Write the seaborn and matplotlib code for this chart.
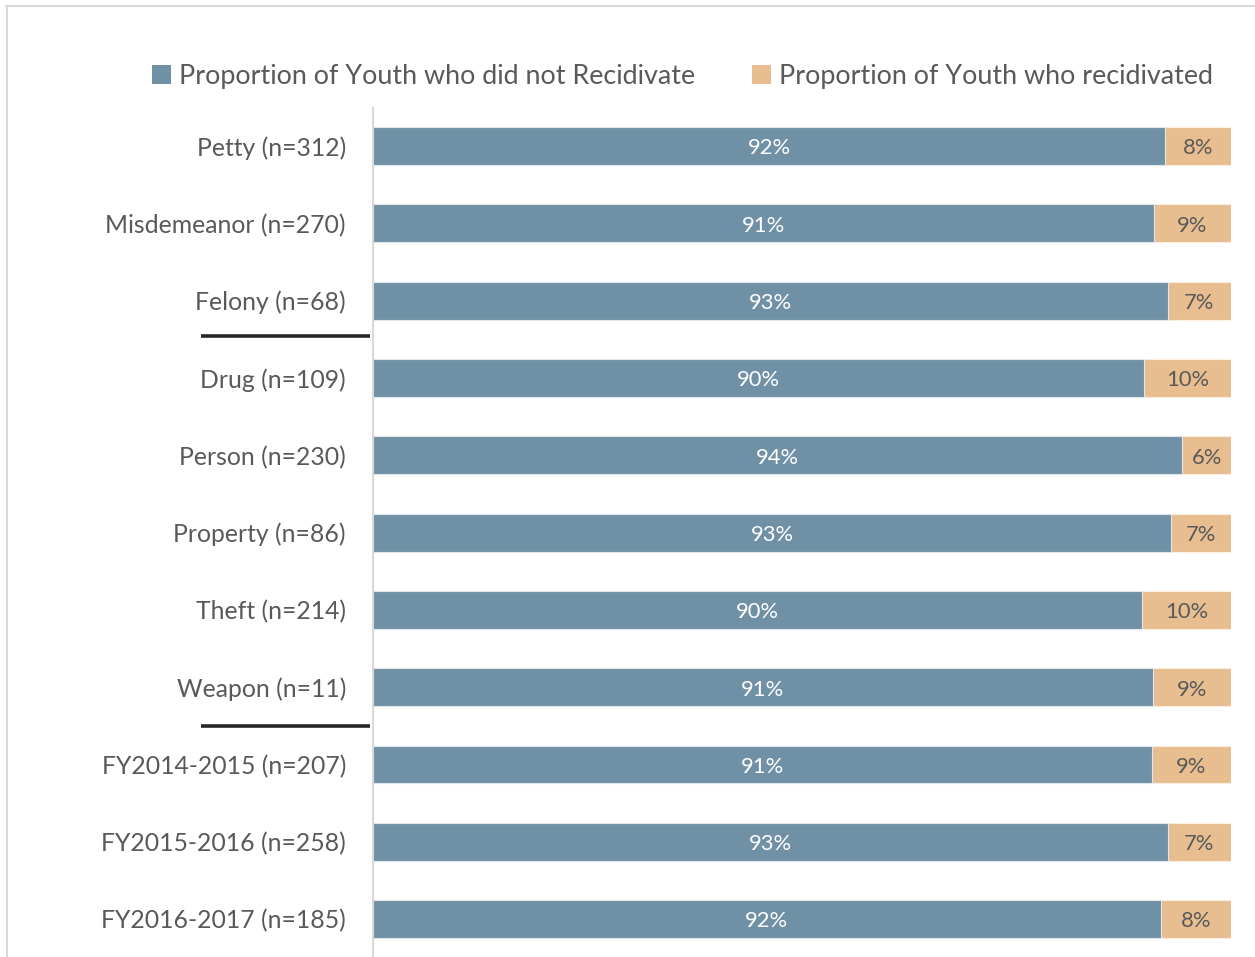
import matplotlib
matplotlib.use("Agg")
import matplotlib.pyplot as plt
from matplotlib.lines import Line2D
from matplotlib.patches import Patch
import matplotlib.transforms as mtransforms
import seaborn as sns
import pandas as pd

categories = [
    "Petty (n=312)", "Misdemeanor (n=270)", "Felony (n=68)",
    "Drug (n=109)", "Person (n=230)", "Property (n=86)", "Theft (n=214)",
    "Weapon (n=11)", "FY2014-2015 (n=207)", "FY2015-2016 (n=258)",
    "FY2016-2017 (n=185)",
]
not_recidivated = [0.923, 0.910, 0.926, 0.899, 0.943, 0.930, 0.896, 0.909, 0.908, 0.926, 0.918]
recidivated = [1 - v for v in not_recidivated]
legend_labels = ["Proportion of Youth who did not Recidivate", "Proportion of Youth who recidivated"]

BLUE = "#7091a5"
TAN = "#e8be90"
GREY = "#595959"

df = pd.DataFrame({
    "category": categories,
    "not_recid": not_recidivated,
    "recid": recidivated,
})
df["total"] = df["not_recid"] + df["recid"]

sns.set_style("white")
plt.rcParams["font.family"] = ["Lato", "DejaVu Sans"]

fig = plt.figure(figsize=(12.55, 9.57), dpi=100)
ax = fig.add_axes([0.2972, 0.0, 0.6837, 0.887])

sns.barplot(data=df, y="category", x="total", orient="h", color=TAN,
            width=0.49, edgecolor="#fbeee0", linewidth=0.8, saturation=1, ax=ax)
sns.barplot(data=df, y="category", x="not_recid", orient="h", color=BLUE,
            width=0.49, edgecolor="#dfe7ec", linewidth=0.8, saturation=1, ax=ax)

ax.set_xlim(0, 1)
ax.set_ylim(10.49, -0.49)
ax.set_xlabel("")
ax.set_ylabel("")
ax.set_xticks([])
ax.tick_params(axis="y", length=0, pad=19.5, labelsize=17.8, labelcolor=GREY)
for s in ["top", "right", "bottom"]:
    ax.spines[s].set_visible(False)
ax.spines["left"].set_color("#d9d9d9")
ax.spines["left"].set_linewidth(1.5)

# value labels
for i, (a, b) in enumerate(zip(not_recidivated, recidivated)):
    ax.text(a / 2, i + 0.03, f"{round(a * 100)}%", ha="center", va="center",
            color="white", fontsize=15.8)
    ax.text(a + b / 2, i + 0.03, f"{round(b * 100)}%", ha="center", va="center",
            color=GREY, fontsize=15.8)

# group separators beneath the category labels
blend = mtransforms.blended_transform_factory(ax.transAxes, ax.transData)
for y in [2.46, 7.5]:
    ax.add_line(Line2D([-0.2, -0.004], [y, y], transform=blend, color="#262626",
                       linewidth=2.6, clip_on=False, solid_capstyle="butt"))

# legend
handles = [Patch(facecolor=BLUE, edgecolor="none"), Patch(facecolor=TAN, edgecolor="none")]
fig.legend(handles, legend_labels, loc="center", bbox_to_anchor=(0.544, 0.920),
           ncol=2, frameon=False, fontsize=19.4, labelcolor=GREY,
           handlelength=0.7, handleheight=0.7, handletextpad=0.3,
           columnspacing=2.1)

# light frame around the figure
fig.add_artist(Line2D([0.005, 1.0], [0.9937, 0.9937], transform=fig.transFigure,
                      color="#d9d9d9", linewidth=1.5))
fig.add_artist(Line2D([0.0056, 0.0056], [0.0, 0.9937], transform=fig.transFigure,
                      color="#d9d9d9", linewidth=1.5))

fig.savefig("out.png", dpi=100, facecolor="white")
